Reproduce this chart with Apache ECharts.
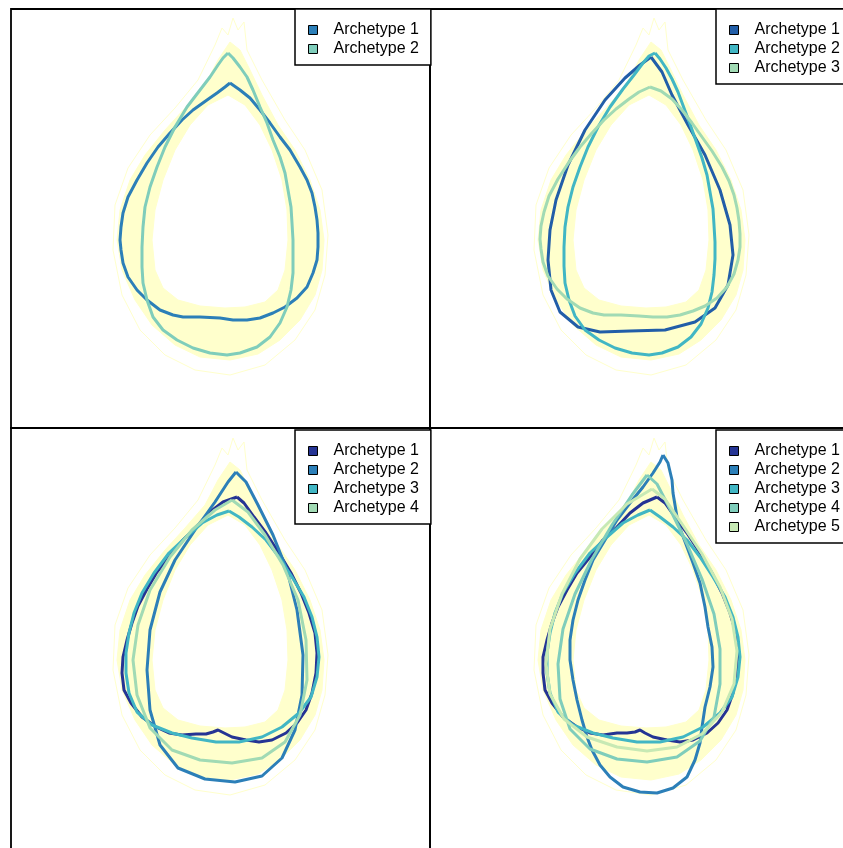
<!DOCTYPE html>
<html><head><meta charset="utf-8">
<script src="https://cdn.jsdelivr.net/npm/echarts@6/dist/echarts.min.js"></script>
<style>html,body{margin:0;padding:0;background:#fff;overflow:hidden}#c{width:880px;height:880px}</style>
</head><body><div id="c"></div>
<script>
// ---- shared sample envelope (panel-local units) ----
var envOuter = [[219,33],[229,41],[239,61],[251,86],[267,116],[284,141],[299,171],[309,201],[313,231],[311,261],[304,286],[289,311],[269,331],[247,345],[219,351],[189,348],[164,336],[141,316],[124,291],[111,261],[106,231],[109,201],[119,171],[134,146],[154,121],[174,99],[194,76],[207,51]];
var envInner = [[217,86],[234,96],[249,116],[261,141],[271,171],[276,201],[277,231],[274,261],[267,281],[254,293],[234,298],[214,299],[189,297],[167,291],[152,279],[144,261],[141,231],[144,201],[152,171],[164,141],[179,116],[197,96]];
var envFaint = [[204,36],[211,19],[217,26],[222,9],[227,21],[233,13],[236,41],[251,71],[274,111],[294,141],[311,181],[317,226],[314,266],[304,301],[284,331],[254,356],[219,366],[184,361],[154,346],[129,321],[111,286],[102,241],[104,196],[117,159],[139,126],[164,99],[187,71]];

// ---- archetype outlines (panel-local units) ----
var p1a1 = [[219,74],[229,81],[239,89],[249,101],[259,114],[269,128],[279,141],[289,158],[296,171],[301,184],[304,198],[306,211],[307,224],[307,238],[306,251],[302,264],[296,278],[286,289],[274,298],[262,304],[249,309],[236,311],[222,311],[209,309],[189,308],[172,308],[162,306],[149,301],[136,291],[126,281],[117,268],[112,254],[110,241],[109,231],[110,218],[112,204],[117,188],[126,171],[136,154],[147,138],[159,124],[171,111],[182,101],[196,91],[206,84],[214,78]];
var p1a2 = [[217,44],[222,49],[229,58],[236,68],[242,81],[249,98],[256,114],[262,131],[269,148],[274,164],[277,181],[280,198],[281,214],[282,231],[282,248],[282,264],[280,281],[276,298],[269,314],[259,328],[246,338],[229,344],[216,346],[199,344],[182,339],[166,331],[152,321],[142,308],[136,291],[132,274],[131,258],[131,238],[132,218],[134,198],[139,178],[146,158],[154,138],[164,118],[176,98],[189,81],[199,68],[207,56],[212,49]];

var p2a1 = [[219,48],[230,63],[240,86],[256,116],[273,146],[288,181],[298,216],[301,246],[296,276],[283,299],[263,313],[233,321],[198,322],[168,323],[146,318],[128,303],[119,281],[116,251],[118,221],[124,191],[136,156],[153,121],[173,91],[193,69],[208,56]];
var p2a2 = [[223,44],[228,50],[234,59],[240,70],[246,83],[252,99],[258,115],[264,132],[270,149],[275,166],[278,183],[281,200],[282,216],[283,233],[283,250],[282,266],[280,283],[276,299],[269,315],[259,328],[246,338],[230,344],[217,346],[200,344],[183,339],[167,331],[153,321],[143,307],[137,291],[133,274],[132,257],[132,238],[133,218],[136,198],[141,178],[148,158],[156,138],[166,118],[178,98],[191,80],[202,66],[211,54],[217,47]];
var p2a3 = [[218,78],[229,82],[240,90],[250,101],[260,114],[270,128],[280,142],[290,158],[297,172],[302,186],[305,199],[307,212],[308,225],[308,238],[306,251],[302,265],[295,278],[285,289],[273,297],[261,302],[248,306],[235,308],[221,308],[207,307],[189,306],[172,306],[161,304],[148,299],[135,290],[125,280],[116,267],[111,253],[109,240],[108,230],[109,217],[112,203],[117,187],[126,170],[137,153],[148,138],[160,124],[172,111],[184,100],[197,90],[207,83]];

var p3a1 = [[226,68],[212,73],[199,83],[186,97],[172,111],[159,127],[146,143],[136,160],[127,177],[121,194],[116,211],[112,228],[111,244],[113,261],[120,274],[131,288],[145,298],[158,304],[171,306],[185,305],[195,305],[202,303],[207,301],[213,304],[221,308],[235,311],[248,313],[261,311],[275,304],[286,294],[295,281],[301,264],[305,244],[306,224],[304,204],[298,184],[290,164],[280,144],[268,124],[255,104],[243,88],[233,74]];
var p3a2 = [[225,43],[217,53],[204,73],[184,101],[164,131],[149,163],[139,201],[136,241],[139,281],[149,316],[167,339],[194,350],[224,353],[251,347],[271,329],[284,301],[291,266],[292,226],[286,181],[276,141],[262,106],[247,76],[235,53]];
var p3a3 = [[218,82],[228,88],[241,98],[255,111],[268,128],[281,148],[293,168],[301,188],[306,208],[308,228],[306,248],[300,268],[288,284],[271,298],[251,308],[228,313],[205,313],[181,309],[161,304],[141,296],[126,283],[118,264],[115,244],[115,224],[118,204],[123,184],[131,164],[143,144],[158,124],[175,108],[191,94],[206,86]];
var p3a4 = [[221,71],[204,81],[181,101],[159,128],[139,161],[127,196],[122,231],[126,266],[139,299],[161,321],[189,331],[221,334],[251,329],[274,313],[289,286],[296,251],[295,211],[287,171],[272,136],[254,106],[237,83]];

var p4a1 = [[225,68],[211,74],[198,84],[185,98],[171,111],[158,128],[145,144],[135,161],[126,178],[120,194],[115,211],[111,228],[111,244],[113,261],[120,274],[131,288],[145,298],[158,304],[171,306],[185,304],[195,304],[203,303],[208,301],[213,304],[221,308],[235,311],[248,313],[261,311],[275,304],[286,294],[295,281],[301,264],[305,244],[306,224],[304,204],[298,184],[290,164],[280,144],[268,124],[255,104],[243,88],[233,74]];
var p4a2 = [[231,26],[236,34],[240,51],[241,64],[246,94],[255,118],[261,134],[268,154],[273,178],[276,198],[280,218],[281,238],[278,258],[273,278],[270,298],[268,314],[263,331],[255,348],[241,359],[225,364],[208,363],[191,358],[178,348],[168,336],[160,321],[155,308],[150,291],[145,271],[141,251],[138,231],[138,211],[141,191],[146,171],[153,151],[161,131],[173,111],[185,91],[198,74],[211,58],[221,44],[228,33]];
var p4a3 = [[218,81],[228,88],[241,98],[255,111],[268,128],[281,148],[293,168],[301,188],[306,208],[308,228],[306,248],[300,268],[288,284],[271,298],[251,308],[228,313],[205,313],[181,309],[161,304],[141,296],[126,283],[118,264],[115,244],[115,224],[118,204],[123,184],[131,164],[143,144],[158,124],[175,108],[191,94],[206,86]];
var p4a4 = [[215,46],[200,66],[180,96],[160,130],[143,165],[131,200],[126,235],[128,270],[138,300],[158,320],[185,330],[215,333],[245,328],[268,312],[282,288],[288,255],[288,220],[282,185],[270,150],[255,115],[238,80],[225,55]];
var p4a5 = [[220,60],[195,75],[170,100],[148,130],[130,165],[118,200],[114,235],[118,265],[132,290],[155,308],[185,318],[215,322],[245,318],[270,305],[290,283],[302,255],[305,222],[300,190],[288,158],[270,125],[250,95],[233,70]];

var panelCurves = [[p1a1,p1a2],[p2a1,p2a2,p2a3],[p3a1,p3a2,p3a3,p3a4],[p4a1,p4a2,p4a3,p4a4,p4a5]];
var archetypeNames = ['Archetype 1','Archetype 2','Archetype 3','Archetype 4','Archetype 5'];
var palettes = [
  ['#2C7FB8','#7FCDBB'],
  ['#225EA8','#41B6C4','#A1DAB4'],
  ['#253494','#2C7FB8','#41B6C4','#A1DAB4'],
  ['#253494','#2C7FB8','#41B6C4','#7FCDBB','#C7E9B4']
];

var panelPos = [[11,9,419,419],[430,9,419,419],[11,428,419,421],[430,428,419,421]];
var axisOff = [[0,0],[-2,0],[0,-1],[-2,-1]];
var legendPos = [[295,9],[716,9],[295,430],[716,430]];

function closed(a){ return a.concat([a[0]]); }

var grids=[], xAxes=[], yAxes=[], series=[], legends=[];
panelPos.forEach(function(p,i){
  grids.push({left:p[0], top:p[1], width:p[2], height:p[3], show:true, borderColor:'#000', borderWidth:1.8, backgroundColor:'transparent', outerBoundsMode:'none', containLabel:false});
  xAxes.push({type:'value', gridIndex:i, min:axisOff[i][0], max:axisOff[i][0]+p[2], show:false});
  yAxes.push({type:'value', gridIndex:i, min:axisOff[i][1], max:axisOff[i][1]+p[3], inverse:true, show:false});
  function poly(pts, fill, z, nm){
    return {type:'custom', name:nm, xAxisIndex:i, yAxisIndex:i, silent:true, z:z, data:[[0,0]],
      renderItem:function(params, api){
        return {type:'polygon', shape:{points:pts.map(function(q){return api.coord(q);})}, style:{fill:fill, stroke:'#FFFFCC', lineWidth:1}};
      }};
  }
  series.push(poly(envOuter,'#FFFFCC',1,'env'+i));
  series.push({type:'line', name:'faint'+i, xAxisIndex:i, yAxisIndex:i, data:closed(envFaint), symbol:'none', silent:true, z:2, lineStyle:{color:'#FFFFCC', width:1}});
  series.push(poly(envInner,'#FFFFFF',3,'inner'+i));
  var names=[];
  panelCurves[i].forEach(function(c,k){
    var nm='P'+(i+1)+' '+archetypeNames[k];
    names.push(nm);
    series.push({type:'line', name:nm, xAxisIndex:i, yAxisIndex:i, data:closed(c), symbol:'none', showSymbol:false, z:5+k,
      color:palettes[i][k], lineStyle:{color:palettes[i][k], width:3}, itemStyle:{color:palettes[i][k]}});
  });
  legends.push({show:true, orient:'vertical', left:legendPos[i][0], top:legendPos[i][1], data:names.map(function(n){return {name:n, icon:'rect'};}),
    formatter:function(n){return n.replace(/^P\d /,'');},
    backgroundColor:'#fff', borderColor:'#000', borderWidth:1.5, borderRadius:0,
    padding:[13,12,8,13], itemWidth:9, itemHeight:9, itemGap:3, selectedMode:false,
    itemStyle:{borderColor:'#000', borderWidth:1},
    textStyle:{fontFamily:'Liberation Sans, Arial, sans-serif', fontSize:16, color:'#000', lineHeight:16, padding:[0,0,0,11]}});
});

var chart = echarts.init(document.getElementById('c'), null, {renderer:'canvas'});
chart.setOption({animation:false, backgroundColor:'#fff', grid:grids, xAxis:xAxes, yAxis:yAxes, legend:legends, series:series});
</script></body></html>
